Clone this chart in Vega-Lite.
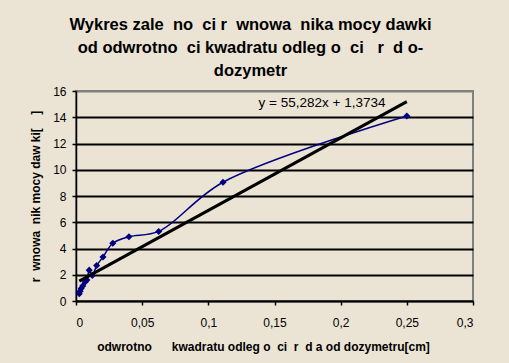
{
  "$schema": "https://vega.github.io/schema/vega-lite/v6.json",
  "autosize": {"type": "none"},
  "width": 397,
  "height": 210,
  "padding": {"left": 76, "top": 91, "right": 36, "bottom": 62},
  "background": "#ebe4d4",
  "config": {
    "view": {"stroke": "#808080", "strokeWidth": 2, "fill": "#ebe4d4"},
    "font": "Liberation Sans",
    "locale": {"number": {"decimal": ",", "thousands": " ", "grouping": [3], "currency": ["", ""]}}
  },
  "title": {
    "text": ["Wykres zale\u00a0\u00a0no\u00a0\u00a0ci r\u00a0\u00a0wnowa\u00a0\u00a0nika mocy dawki", "od odwrotno\u00a0\u00a0ci kwadratu odleg\u00a0o\u00a0\u00a0ci\u00a0\u00a0\u00a0r\u00a0\u00a0d\u00a0o-", "dozymetr"],
    "fontSize": 16.5,
    "fontWeight": "bold",
    "font": "Liberation Sans",
    "color": "#000000",
    "lineHeight": 23,
    "anchor": "middle",
    "dx": -24,
    "offset": 6
  },
  "datasets": {
    "series": [
      {"d": 2, "x": 0.25, "y": 14.1},
      {"d": 3, "x": 0.1111, "y": 9.05},
      {"d": 4, "x": 0.0625, "y": 5.3},
      {"d": 5, "x": 0.04, "y": 4.9},
      {"d": 6, "x": 0.0278, "y": 4.4},
      {"d": 7, "x": 0.0204, "y": 3.35},
      {"d": 8, "x": 0.0156, "y": 2.7},
      {"d": 9, "x": 0.0123, "y": 1.95},
      {"d": 10, "x": 0.01, "y": 2.35},
      {"d": 11, "x": 0.00826, "y": 1.6},
      {"d": 12, "x": 0.00694, "y": 1.45},
      {"d": 14, "x": 0.0051, "y": 1.15},
      {"d": 16, "x": 0.0039, "y": 0.95},
      {"d": 18, "x": 0.0031, "y": 0.75},
      {"d": 20, "x": 0.0025, "y": 0.55}
    ],
    "trend": [
      {"x": 0.0025, "y": 1.5116},
      {"x": 0.25, "y": 15.194}
    ],
    "label": [
      {"x": 0.138, "y": 15.05, "text": "y = 55,282x + 1,3734"}
    ]
  },
  "encoding": {
    "x": {
      "field": "x", "type": "quantitative",
      "scale": {"domain": [0, 0.3], "nice": false, "zero": false},
      "axis": {
        "values": [0, 0.05, 0.1, 0.15, 0.2, 0.25, 0.3],
        "format": "~f",
        "grid": false,
        "domainColor": "#000000", "domainWidth": 1.5,
        "tickColor": "#000000", "tickSize": 4, "tickWidth": 1.5,
        "labelFont": "Liberation Sans", "labelFontSize": 12, "labelColor": "#000000", "labelPadding": 12,
        "title": "odwrotno\u00a0\u00a0\u00a0\u00a0\u00a0\u00a0kwadratu odleg\u00a0o\u00a0\u00a0ci\u00a0\u00a0r\u00a0\u00a0d\u00a0a od dozymetru[cm]",
        "titleFont": "Liberation Sans", "titleFontSize": 12, "titleFontWeight": "bold", "titleColor": "#000000",
        "titleX": 187, "titleY": 45, "titleBaseline": "middle", "titleAlign": "center"
      }
    },
    "y": {
      "field": "y", "type": "quantitative",
      "scale": {"domain": [0, 16], "nice": false, "zero": false},
      "axis": {
        "values": [0, 2, 4, 6, 8, 10, 12, 14, 16],
        "grid": true,
        "gridColor": {"condition": {"test": "datum.value === 16", "value": "#808080"}, "value": "#000000"},
        "gridWidth": 2, "gridOpacity": 1,
        "domainColor": "#000000", "domainWidth": 1.5,
        "tickColor": "#000000", "tickSize": 4, "tickWidth": 1.5,
        "labelFont": "Liberation Sans", "labelFontSize": 12, "labelColor": "#000000", "labelPadding": 6,
        "title": "r\u00a0\u00a0wnowa\u00a0\u00a0nik mocy daw ki[\u00a0\u00a0\u00a0\u00a0]",
        "titleFont": "Liberation Sans", "titleFontSize": 12, "titleFontWeight": "bold", "titleColor": "#000000",
        "titleX": -41, "titleY": 105, "titleAngle": -90, "titleBaseline": "middle", "titleAlign": "center"
      }
    }
  },
  "layer": [
    {
      "data": {"name": "series"},
      "mark": {"type": "line", "color": "#000080", "strokeWidth": 1.5, "interpolate": "catmull-rom"},
      "encoding": {"order": {"field": "d", "type": "quantitative"}}
    },
    {
      "data": {"name": "series"},
      "mark": {"type": "point", "shape": "diamond", "filled": true, "color": "#000080", "size": 50, "opacity": 1}
    },
    {
      "data": {"name": "trend"},
      "mark": {"type": "line", "color": "#000000", "strokeWidth": 3},
      "encoding": {}
    },
    {
      "data": {"name": "label"},
      "mark": {"type": "text", "align": "left", "baseline": "middle", "fontSize": 13.5, "font": "Liberation Sans", "color": "#000000"},
      "encoding": {"text": {"field": "text", "type": "nominal"}}
    }
  ]
}
